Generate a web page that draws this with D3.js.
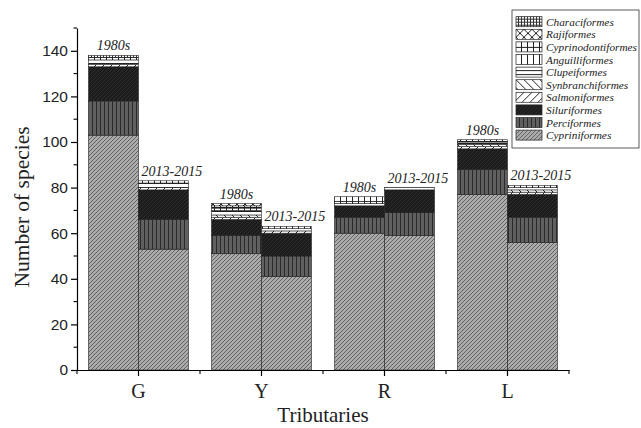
<!DOCTYPE html>
<html>
<head>
<meta charset="utf-8">
<script src="https://cdn.jsdelivr.net/npm/d3@7"></script>
<style>
body { margin: 0; background: #fff; }
svg text { font-family: "Liberation Serif", "Times New Roman", Times, serif; }
svg .tick text { font-family: "Liberation Sans", Arial, Helvetica, sans-serif; }
</style>
</head>
<body>
<div id="chart-area"></div>
<script>
// data
var tributaries = ["G", "Y", "R", "L"];
var periods = ["1980s", "2013-2015"];
// order of values: G 1980s, G 2013-2015, Y 1980s, Y 2013-2015, R ..., L ...
var cypriniformes      = [103, 53, 51, 41, 60, 59, 77, 56];
var perciformes        = [15, 13, 8, 9, 7, 10, 11, 11];
var siluriformes       = [15, 13, 7, 10, 5, 10, 9, 10];
var salmoniformes      = [1, 1, 1, 1, 0, 0, 1, 1];
var synbranchiformes   = [0, 0, 1, 0, 0, 0, 1, 1];
var clupeiformes       = [2, 2, 2, 1, 1, 1, 1, 1];
var anguilliformes     = [0, 0, 1, 0, 1, 0, 0, 0];
var cyprinodontiformes = [1, 1, 1, 1, 2, 0, 1, 1];
var rajiformes         = [0, 0, 1, 0, 0, 0, 0, 0];
var characiformes      = [1, 0, 0, 0, 0, 0, 0, 0];
var yTicks = [0, 20, 40, 60, 80, 100, 120, 140];

var orders = ["Cypriniformes", "Perciformes", "Siluriformes", "Salmoniformes",
  "Synbranchiformes", "Clupeiformes", "Anguilliformes", "Cyprinodontiformes",
  "Rajiformes", "Characiformes"];
var series = [cypriniformes, perciformes, siluriformes, salmoniformes,
  synbranchiformes, clupeiformes, anguilliformes, cyprinodontiformes,
  rajiformes, characiformes];

var table = [];
tributaries.forEach((t, i) => {
  periods.forEach((p, j) => {
    var row = {trib: t, period: p};
    orders.forEach((o, k) => { row[o] = series[k][i * 2 + j]; });
    table.push(row);
  });
});

var margin = {top: 28, right: 72, bottom: 58, left: 77};
var W = 641, H = 428;
var width = W - margin.left - margin.right;   // 492
var height = H - margin.top - margin.bottom;  // 342

var svg = d3.select("#chart-area").append("svg")
  .attr("width", W).attr("height", H);

// fill patterns
var defs = svg.append("defs");
function pat(id, size, bg, draw) {
  var p = defs.append("pattern").attr("id", id)
    .attr("patternUnits", "userSpaceOnUse")
    .attr("width", size).attr("height", size);
  p.append("rect").attr("width", size).attr("height", size).attr("fill", bg);
  draw(p, size);
}
function line(p, x1, y1, x2, y2, c, w) {
  p.append("line").attr("x1", x1).attr("y1", y1).attr("x2", x2).attr("y2", y2)
    .attr("stroke", c).attr("stroke-width", w);
}
pat("p-Cypriniformes", 4, "#ababab", (p, s) => {
  line(p, 0, s, s, 0, "#595959", 0.9);
  line(p, -1, 1, 1, -1, "#595959", 0.9);
  line(p, s - 1, s + 1, s + 1, s - 1, "#595959", 0.9);
});
pat("p-Perciformes", 4, "#606060", (p, s) => { line(p, 3.5, 0, 3.5, s, "#2a2a2a", 1); });
pat("p-Siluriformes", 4, "#1c1c1c", (p, s) => { line(p, 0, s, s, 0, "#2e2e2e", 1); });
pat("p-Salmoniformes", 8, "#fff", (p, s) => {
  line(p, 0, s, s, 0, "#222", 1);
  line(p, -2, 2, 2, -2, "#222", 1);
  line(p, s - 2, s + 2, s + 2, s - 2, "#222", 1);
});
pat("p-Synbranchiformes", 8, "#fff", (p, s) => {
  line(p, 0, 0, s, s, "#222", 1);
  line(p, -2, s - 2, 2, s + 2, "#222", 1);
  line(p, s - 2, -2, s + 2, 2, "#222", 1);
});
pat("p-Clupeiformes", 4, "#fff", (p, s) => { line(p, 0, 3.5, s, 3.5, "#222", 1); });
pat("p-Anguilliformes", 6, "#fff", (p, s) => { line(p, 5.5, 0, 5.5, s, "#222", 1); });
pat("p-Cyprinodontiformes", 6, "#fff", (p, s) => {
  line(p, 5.5, 0, 5.5, s, "#222", 1);
  line(p, 0, 5.5, s, 5.5, "#222", 1);
});
pat("p-Rajiformes", 8, "#fff", (p, s) => {
  line(p, 0, 0, s, s, "#222", 1);
  line(p, 0, s, s, 0, "#222", 1);
});
pat("p-Characiformes", 3, "#fff", (p, s) => {
  line(p, 2.5, 0, 2.5, s, "#333", 1);
  line(p, 0, 2.5, s, 2.5, "#333", 1);
});

var g = svg.append("g")
  .attr("transform", "translate(" + margin.left + "," + margin.top + ")");

var x0 = d3.scaleBand().domain(tributaries).range([0, width]).padding(0);
var x1 = d3.scaleBand().domain(periods).range([0, x0.bandwidth()])
  .paddingInner(0).paddingOuter(0.23);
var y = d3.scaleLinear().domain([0, 150]).range([height, 0]);

var stack = d3.stack().keys(orders);
var layers = stack(table);

g.selectAll(".layer").data(layers).enter().append("g")
  .attr("class", "layer")
  .attr("fill", (d) => "url(#p-" + d.key + ")")
  .selectAll("rect").data((d) => d).enter().append("rect")
  .attr("x", (d) => x0(d.data.trib) + x1(d.data.period))
  .attr("width", x1.bandwidth())
  .attr("y", (d) => y(d[1]))
  .attr("height", (d) => y(d[0]) - y(d[1]))
  .attr("stroke", "#222").attr("stroke-width", 0.6);

// period labels above each bar: 1980s centred, 2013-2015 starts near bar's left edge
g.selectAll(".plabel").data(table).enter().append("text")
  .attr("class", "plabel")
  .attr("x", (d) => x0(d.trib) + x1(d.period) +
    (d.period === periods[0] ? x1.bandwidth() / 2 : 3))
  .attr("y", (d) => y(d3.sum(orders, (o) => d[o])) - 5)
  .attr("text-anchor", (d) => d.period === periods[0] ? "middle" : "start")
  .attr("font-size", "14px").attr("font-style", "italic").attr("fill", "#222")
  .text((d) => d.period);

// y axis
var yAxis = d3.axisLeft(y).tickValues(yTicks).tickSize(6).tickSizeOuter(0);
var ya = g.append("g").call(yAxis);
ya.attr("font-family", null);
ya.select(".domain").attr("stroke", "#000").attr("stroke-width", 1.2);
ya.selectAll(".tick line").attr("stroke-width", 1.2);
ya.selectAll(".tick text")
  .attr("font-size", "15.5px").attr("fill", "#222");
var yMinor = d3.range(10, 151, 20);
g.selectAll(".yminor").data(yMinor).enter().append("line")
  .attr("x1", -3.5).attr("x2", 0)
  .attr("y1", (d) => y(d)).attr("y2", (d) => y(d))
  .attr("stroke", "#000").attr("stroke-width", 1.1);

// x axis
var xAxis = d3.axisBottom(x0).tickSize(6).tickSizeOuter(0);
var xa = g.append("g").attr("transform", "translate(0," + height + ")").call(xAxis);
xa.attr("font-family", null);
xa.select(".domain").attr("stroke", "#000").attr("stroke-width", 1.2);
xa.selectAll(".tick line").attr("stroke-width", 1.2);
xa.selectAll(".tick text")
  .style("font-family", "'Liberation Serif', 'Times New Roman', serif")
  .attr("font-size", "20px").attr("fill", "#222").attr("dy", "0.95em");
g.selectAll(".xminor").data(d3.range(0, tributaries.length + 1)).enter().append("line")
  .attr("x1", (d) => d * x0.step()).attr("x2", (d) => d * x0.step())
  .attr("y1", height).attr("y2", height + 4)
  .attr("stroke", "#000").attr("stroke-width", 1.1);

// axis titles
g.append("text")
  .attr("x", width / 2).attr("y", height + 52)
  .attr("text-anchor", "middle").attr("font-size", "21px").attr("fill", "#222")
  .text("Tributaries");
g.append("text")
  .attr("transform", "rotate(-90)")
  .attr("x", -179).attr("y", -48)
  .attr("text-anchor", "middle").attr("font-size", "21.5px").attr("fill", "#222")
  .text("Number of species");

// legend
var legend = svg.append("g").attr("transform", "translate(512, 10)");
legend.append("rect").attr("width", 127).attr("height", 138)
  .attr("fill", "#fff").attr("stroke", "#333").attr("stroke-width", 0.8);
var legOrders = orders.slice().reverse();
var item = legend.selectAll(".item").data(legOrders).enter().append("g")
  .attr("transform", (d, i) => "translate(4," + (6.7 + i * 12.6) + ")");
item.append("rect").attr("width", 26).attr("height", 10)
  .attr("fill", (d) => "url(#p-" + d + ")")
  .attr("stroke", "#222").attr("stroke-width", 0.7);
item.append("text").attr("x", 30).attr("y", 9)
  .attr("font-size", "11.3px").attr("font-style", "italic").attr("fill", "#222")
  .text((d) => d);
</script>
</body>
</html>
